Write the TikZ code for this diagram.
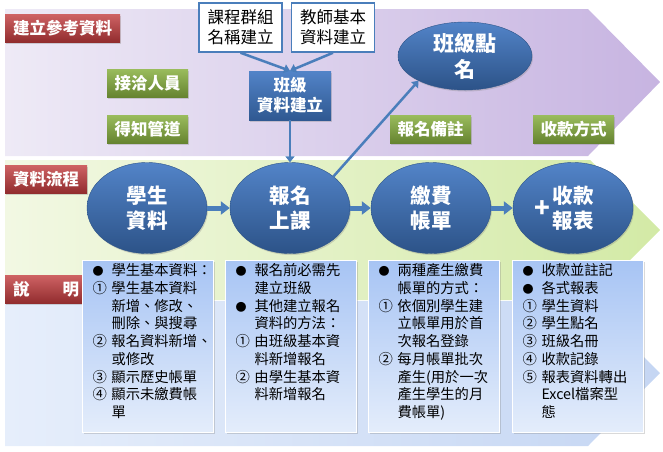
\documentclass[tikz,border=0pt]{standalone}
\usepackage{fontspec}
\setmainfont{Noto Sans CJK TC}
\usetikzlibrary{arrows.meta,shapes.geometric,shadows}
\definecolor{lineblue}{HTML}{4A7EBB}
\definecolor{tagred}{HTML}{C23B3D}
\definecolor{taggreen}{HTML}{88B040}
\definecolor{boxblue}{HTML}{3F76C2}
\definecolor{purA}{HTML}{EEEAF6}
\definecolor{purB}{HTML}{C7B4E1}
\definecolor{grnA}{HTML}{F2F8E3}
\definecolor{grnB}{HTML}{D3EAA6}
\definecolor{bluA}{HTML}{E6EEFB}
\definecolor{bluB}{HTML}{C5D6F3}
\definecolor{noteA}{HTML}{A7C4F4}
\definecolor{noteB}{HTML}{E4EDFB}
\newcommand\notebody[1]{\parbox[t][172pt][t]{131pt}{\vspace*{3pt}\fontsize{14.3}{17.7}\selectfont\begin{tabular}[t]{@{\hspace{10pt}}p{19pt}@{}l@{}}#1\end{tabular}}}
\newcommand\dotmark{{\fontsize{11}{11}\selectfont ●}}
\newcommand\plusmark{\makebox[0pt][r]{\raisebox{-14pt}[0pt][0pt]{\fontsize{26}{26}\selectfont +}\hspace{2pt}}}

\begin{document}
\begin{tikzpicture}[x=1pt,y=-1pt,>={Triangle[length=6pt,width=9pt]},
	softshadow/.style={drop shadow={opacity=.3,shadow xshift=1pt,shadow yshift=-1.5pt}},
	redtag/.style={anchor=north west,minimum height=28pt,inner xsep=8pt,inner ysep=0pt,text=white,font=\fontsize{16.5}{18}\selectfont\bfseries,top color=tagred!80!white,bottom color=tagred!75!black,softshadow},
	grntag/.style={minimum height=28pt,inner xsep=7.5pt,inner ysep=0pt,text=white,font=\fontsize{16.5}{18}\selectfont\bfseries,top color=taggreen!85!white,bottom color=taggreen!75!black,softshadow},
	linebox/.style={draw=lineblue,line width=1.5pt,fill=white,minimum height=49pt,inner xsep=8.5pt,inner ysep=0pt,align=center,font=\fontsize{16.5}{20}\selectfont},
	bluebox/.style={minimum height=49pt,inner xsep=8pt,inner ysep=0pt,align=center,text=white,font=\fontsize{16.5}{20}\selectfont\bfseries,top color=boxblue!90!white,bottom color=boxblue!75!black,softshadow},
	stage/.style={ellipse,minimum width=120pt,minimum height=91pt,inner sep=0pt,align=center,text=white,font=\fontsize{20.5}{25}\selectfont\bfseries,top color=boxblue!90!white,bottom color=boxblue!70!black,draw=boxblue!70!black,softshadow},
	notebox/.style={anchor=north west,inner sep=0pt,draw=white,line width=1pt,top color=noteA,bottom color=noteB,softshadow},
	link/.style={->,draw=lineblue,line width=2.5pt},
	flow/.style={-{Triangle[length=9pt,width=13pt]},draw=lineblue,line width=5pt}]
	\useasboundingbox (0,0) rectangle (663,451);
	\shade[left color=purA,right color=purB] (5,9)--(588,9)--(660,82)--(588,156)--(5,156)--cycle;
	\shade[left color=grnA,right color=grnB] (5,160)--(590,160)--(660,230)--(590,300)--(5,300)--cycle;
	\shade[left color=bluA,right color=bluB] (5,301)--(588,301)--(660,373)--(588,446)--(5,446)--cycle;
	\foreach \n/\y/\t in {ra/14/建立參考資料,rb/165/資料流程,rc/275/說　　明}\node[redtag] (\n) at (5,\y) {\t};
	\foreach \n/\x/\y/\t in {ga/147.5/83/接洽人員,gb/147.5/129/得知管道,gc/430.5/129/報名備註,gd/573.5/129/收款方式}\node[grntag] (\n) at (\x,\y) {\t};
	\node[linebox] (ca) at (240.5,27.5) {課程群組\\名稱建立};
	\node[linebox] (cb) at (333,27.5) {教師基本\\資料建立};
	\node[bluebox] (cr) at (290,95.5) {班級\\資料建立};
	\node[stage,minimum width=134pt,minimum height=68pt,font=\fontsize{21}{26}\selectfont\bfseries] (dm) at (465,56) {班級點\\名};
	\foreach \n/\x/\t in {am/147/學生\\資料,bm/290/報名\\上課,cm/431/繳費\\帳單}\node[stage] (\n) at (\x,208) {\t};
	\node[stage] (em) at (573,208) {\plusmark 收款\\報表};
	\draw[link] (ca.south)--(cr.north);
	\draw[link] (cb.south)--(cr.north);
	\draw[link] (cr)--(bm);
	\draw[link] (bm.36)--(dm.208);
	\foreach \a/\b in {am/bm,bm/cm,cm/em}\draw[flow] (\a)--(\b);
	\node[notebox] (na) at (82,260) {\notebody{\dotmark & 學生基本資料：\\ ① & 學生基本資料\\ & 新增、修改、\\ & 刪除、與搜尋\\ ② & 報名資料新增、\\ & 或修改\\ ③ & 顯示歷史帳單\\ ④ & 顯示未繳費帳\\ & 單}};
	\node[notebox] (nb) at (225,260) {\notebody{\dotmark & 報名前必需先\\ & 建立班級\\ \dotmark & 其他建立報名\\ & 資料的方法：\\ ① & 由班級基本資\\ & 料新增報名\\ ② & 由學生基本資\\ & 料新增報名}};
	\node[notebox] (nc) at (368,260) {\notebody{\dotmark & 兩種產生繳費\\ & 帳單的方式：\\ ① & 依個別學生建\\ & 立帳單用於首\\ & 次報名登錄\\ ② & 每月帳單批次\\ & 產生(用於一次\\ & 產生學生的月\\ & 費帳單)}};
	\node[notebox] (nd) at (512,260) {\notebody{\dotmark & 收款並註記\\ \dotmark & 各式報表\\ ① & 學生資料\\ ② & 學生點名\\ ③ & 班級名冊\\ ④ & 收款記錄\\ ⑤ & 報表資料轉出\\ & Excel檔案型\\ & 態}};
\end{tikzpicture}
\end{document}
